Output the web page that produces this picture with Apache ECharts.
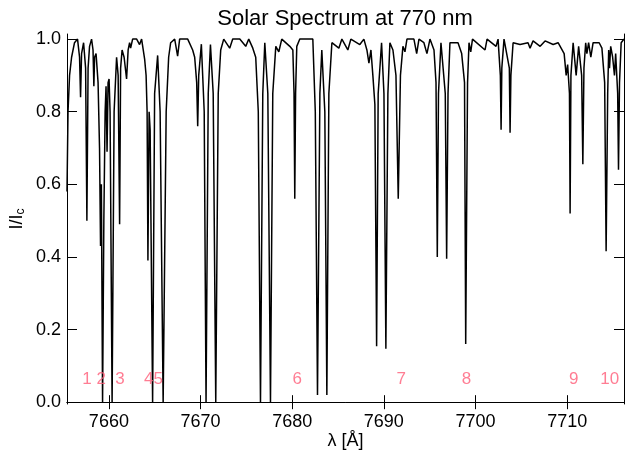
<!DOCTYPE html>
<html>
<head>
<meta charset="utf-8">
<title>Solar Spectrum at 770 nm</title>
<script src="https://cdn.jsdelivr.net/npm/echarts@6/dist/echarts.min.js"></script>
<style>
  html, body { margin: 0; padding: 0; background: #fff; }
  #chart { width: 625px; height: 453px; }
</style>
</head>
<body>
<div id="chart"></div>
<script>
// spectrum (wavelength in Angstrom, normalised intensity)
const wavelength = [
  7655.43, 7655.54, 7655.71, 7655.93, 7656.25, 7656.58, 7656.80, 7656.91, 7657.02, 7657.24,
  7657.46, 7657.60, 7657.73, 7657.89, 7658.11, 7658.27, 7658.36, 7658.44, 7658.60, 7658.82,
  7658.98, 7659.09, 7659.18, 7659.31, 7659.45, 7659.59, 7659.69, 7659.80, 7659.91, 7660.02,
  7660.13, 7660.35, 7660.57, 7660.84, 7661.01, 7661.17, 7661.28, 7661.44, 7661.66, 7661.93,
  7662.10, 7662.26, 7662.37, 7662.59, 7663.03, 7663.35, 7663.57, 7663.90, 7664.06, 7664.17,
  7664.26, 7664.39, 7664.50, 7664.77, 7664.99, 7665.32, 7665.59, 7665.92, 7666.25, 7666.52,
  7666.74, 7667.18, 7667.50, 7667.72, 7668.60, 7669.14, 7669.36, 7669.58, 7669.69, 7669.80,
  7670.09, 7670.40, 7670.60, 7670.84, 7671.08, 7671.38, 7671.66, 7671.93, 7672.20, 7672.53,
  7673.18, 7673.51, 7674.28, 7674.93, 7675.26, 7675.70, 7676.02, 7676.30, 7676.54, 7676.79,
  7677.01, 7677.34, 7677.63, 7677.88, 7678.21, 7678.54, 7678.86, 7679.74, 7680.07, 7680.20,
  7680.28, 7680.37, 7680.50, 7680.83, 7682.25, 7682.52, 7682.76, 7683.02, 7683.23, 7683.56,
  7683.78, 7684.00, 7684.33, 7685.09, 7685.42, 7686.07, 7686.40, 7687.38, 7687.82, 7688.15,
  7688.37, 7688.59, 7688.80, 7689.02, 7689.21, 7689.38, 7689.75, 7690.01, 7690.22, 7690.44,
  7690.66, 7690.99, 7691.32, 7691.57, 7691.81, 7692.08, 7692.30, 7692.52, 7693.28, 7693.58,
  7693.83, 7694.37, 7694.70, 7695.03, 7695.47, 7695.69, 7695.83, 7695.96, 7696.23, 7696.70,
  7696.85, 7697.00, 7697.21, 7698.09, 7698.49, 7698.80, 7698.93, 7699.13, 7699.29, 7699.48,
  7699.67, 7701.04, 7701.26, 7702.24, 7702.46, 7702.71, 7702.79, 7702.87, 7703.11, 7703.69,
  7703.77, 7703.86, 7704.10, 7704.86, 7705.73, 7705.95, 7706.28, 7707.05, 7707.59, 7708.47,
  7709.01, 7709.34, 7709.67, 7709.89, 7710.05, 7710.25, 7710.32, 7710.41, 7710.65, 7710.98,
  7711.25, 7711.58, 7711.71, 7711.83, 7712.02, 7712.15, 7712.34, 7712.58, 7712.83, 7713.49,
  7713.79, 7714.09, 7714.25, 7714.42, 7714.53, 7714.62, 7714.75, 7714.96, 7715.16, 7715.29,
  7715.51, 7715.60, 7715.71, 7715.89, 7716.20
];
const intensity = [
  0.58, 0.80, 0.90, 0.95, 0.99, 1.00, 0.95, 0.84, 0.96, 0.99,
  0.92, 0.50, 0.92, 0.98, 1.00, 0.97, 0.87, 0.95, 0.96, 0.88,
  0.70, 0.43, 0.60, 0.00, 0.50, 0.80, 0.87, 0.69, 0.88, 0.89,
  0.80, 0.00, 0.80, 0.95, 0.90, 0.49, 0.92, 0.97, 0.95, 0.89,
  0.97, 0.99, 0.975, 1.00, 1.00, 0.985, 1.00, 0.945, 0.90, 0.80,
  0.39, 0.80, 0.75, 0.00, 0.85, 0.955, 0.80, 0.00, 0.80, 0.95,
  0.99, 1.00, 0.953, 1.00, 1.00, 0.97, 0.95, 0.88, 0.76, 0.90,
  0.986, 0.80, 0.00, 0.85, 0.985, 0.85, 0.00, 0.85, 0.97, 1.00,
  0.975, 1.00, 1.00, 0.98, 1.00, 0.975, 0.95, 0.80, 0.00, 0.85,
  0.99, 0.85, 0.00, 0.85, 0.98, 0.965, 1.00, 0.98, 0.97, 0.85,
  0.56, 0.85, 0.98, 1.00, 1.00, 0.80, 0.02, 0.85, 0.97, 0.80,
  0.02, 0.85, 0.99, 0.975, 1.00, 0.97, 1.00, 0.985, 1.00, 0.97,
  0.934, 0.97, 0.90, 0.82, 0.154, 0.85, 0.99, 0.85, 0.147, 0.85,
  0.99, 0.97, 0.90, 0.56, 0.90, 0.98, 0.965, 1.00, 1.00, 0.96,
  1.00, 0.99, 0.96, 1.00, 0.97, 0.88, 0.40, 0.85, 0.99, 0.85,
  0.395, 0.85, 0.99, 0.99, 0.96, 0.88, 0.16, 0.88, 0.99, 0.965,
  1.00, 0.97, 1.00, 0.98, 1.00, 0.90, 0.75, 0.92, 1.00, 0.92,
  0.742, 0.90, 0.99, 0.985, 0.99, 0.975, 0.995, 0.98, 0.995, 0.985,
  0.99, 0.975, 0.96, 0.90, 0.93, 0.85, 0.52, 0.90, 0.99, 0.90,
  0.98, 0.90, 0.655, 0.92, 0.99, 0.96, 0.99, 0.95, 0.99, 0.99,
  0.975, 0.88, 0.416, 0.85, 0.97, 0.92, 0.98, 0.95, 0.90, 0.96,
  0.85, 0.64, 0.88, 0.99, 1.00
];

// numbered line markers
const markerNames = ['1', '2', '3', '4', '5', '6', '7', '8', '9', '10'];
const markerWave = [7657.60, 7659.16, 7661.20, 7664.34, 7665.38, 7680.55, 7691.90, 7699.02, 7710.71, 7714.64];
const markerLevel = [0.062, 0.062, 0.062, 0.062, 0.062, 0.062, 0.062, 0.062, 0.062, 0.062];

// axis ticks
const xTicks = [7660, 7670, 7680, 7690, 7700, 7710];
const yTicks = [0.0, 0.2, 0.4, 0.6, 0.8, 1.0];

const xMin = 7655.43, xMax = 7716.2;
const yMin = -0.005, yMax = 1.014;

const font = '"Liberation Sans", Arial, Helvetica, sans-serif';
const black = '#000';

const chart = echarts.init(document.getElementById('chart'));

const spectrum = wavelength.map((w, i) => [w, intensity[i]]);
const markers = markerNames.map((n, i) => [markerWave[i], markerLevel[i], n]);

const frameLine = { show: true, lineStyle: { color: black, width: 1 } };

chart.setOption({
  animation: false,
  backgroundColor: '#fff',
  title: {
    text: 'Solar Spectrum at 770 nm',
    left: 340,
    top: 3,
    textAlign: 'center',
    textStyle: { fontFamily: font, fontSize: 22, fontWeight: 'normal', color: black }
  },
  grid: { left: 67, right: 1, top: 34, bottom: 49, containLabel: false, outerBoundsMode: 'none' },
  xAxis: [
    {
      type: 'value', position: 'bottom', min: xMin, max: xMax,
      axisLine: frameLine,
      axisTick: { show: true, inside: true, length: 7, lineStyle: { color: black }, customValues: xTicks },
      axisLabel: {
        customValues: xTicks, fontFamily: font, fontSize: 18, color: black, margin: 9,
        formatter: v => String(v)
      },
      splitLine: { show: false },
      name: 'λ [Å]', nameLocation: 'middle', nameGap: 28, nameMoveOverlap: false,
      nameTextStyle: { fontFamily: font, fontSize: 18, color: black }
    },
    {
      type: 'value', position: 'top', min: xMin, max: xMax,
      axisLine: frameLine,
      axisTick: { show: true, inside: true, length: 7, lineStyle: { color: black }, customValues: xTicks },
      axisLabel: { show: false },
      splitLine: { show: false }
    }
  ],
  yAxis: [
    {
      type: 'value', position: 'left', min: yMin, max: yMax,
      axisLine: frameLine,
      axisTick: { show: true, inside: true, length: 10, lineStyle: { color: black }, customValues: yTicks },
      axisLabel: {
        customValues: yTicks, fontFamily: font, fontSize: 18, color: black, margin: 6,
        formatter: v => v.toFixed(1)
      },
      splitLine: { show: false },
      name: 'I/I{c|c}', nameLocation: 'middle', nameGap: 40, nameRotate: 90, nameMoveOverlap: false,
      nameTextStyle: {
        fontFamily: font, fontSize: 18, color: black,
        rich: { c: { fontFamily: font, fontSize: 12, color: black, verticalAlign: 'bottom', padding: [8, 0, 0, 0] } }
      }
    },
    {
      type: 'value', position: 'right', min: yMin, max: yMax,
      axisLine: frameLine,
      axisTick: { show: true, inside: true, length: 10, lineStyle: { color: black }, customValues: yTicks },
      axisLabel: { show: false },
      splitLine: { show: false }
    }
  ],
  series: [
    {
      type: 'line',
      data: spectrum,
      showSymbol: false,
      symbol: 'none',
      lineStyle: { color: black, width: 1.5 },
      clip: true,
      z: 3
    },
    {
      type: 'scatter',
      data: markers,
      symbolSize: 0,
      label: {
        show: true,
        position: 'inside',
        formatter: p => p.value[2],
        fontFamily: font,
        fontSize: 17,
        color: '#ff5c78'
      },
      z: 4
    }
  ]
});
</script>
</body>
</html>
